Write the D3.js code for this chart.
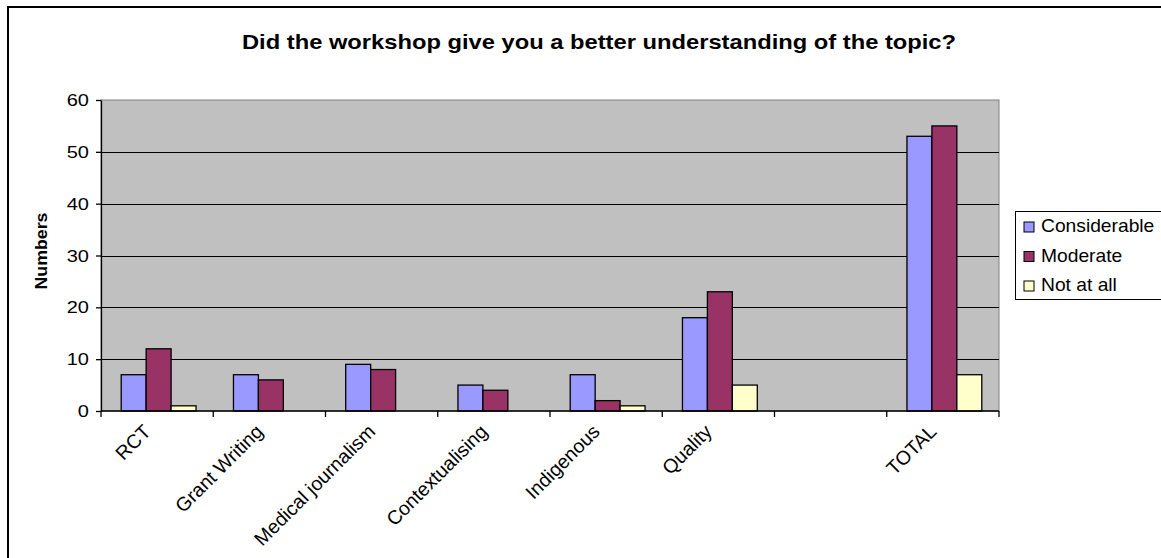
<!DOCTYPE html>
<html>
<head>
<meta charset="utf-8">
<script src="https://cdn.jsdelivr.net/npm/d3@7"></script>
<style>
  html, body { margin: 0; padding: 0; background: #fff; }
  svg { display: block; font-family: Arial, "Liberation Sans", sans-serif; }
</style>
</head>
<body>
<svg id="chart" width="1161" height="558"></svg>
<script>
// Workshop feedback: responses per workshop
const categories = ["RCT", "Grant Writing", "Medical journalism", "Contextualising", "Indigenous", "Quality", "", "TOTAL"];
const seriesNames = ["Considerable", "Moderate", "Not at all"];
const considerable = [7, 7, 9, 5, 7, 18, null, 53];
const moderate = [12, 6, 8, 4, 2, 23, null, 55];
const notAtAll = [1, 0, 0, 0, 1, 5, null, 7];
const yTicks = [0, 10, 20, 30, 40, 50, 60];
const seriesColors = ["#9999FF", "#993366", "#FFFFCC"];

const titleText = "Did the workshop give you a better understanding of the topic?";
const yAxisTitle = "Numbers";

const seriesValues = [considerable, moderate, notAtAll];

const svg = d3.select("#chart");
const W = 1161, H = 558;
const plot = { left: 101, right: 999, top: 100, bottom: 411 };
const SX = 1.25; // horizontal text stretch

svg.append("rect").attr("width", W).attr("height", H).attr("fill", "#fff");

// outer chart border
svg.append("rect")
  .attr("x", 8).attr("y", 7).attr("width", 1200).attr("height", 600)
  .attr("fill", "none").attr("stroke", "#000").attr("stroke-width", 2);

// scales
const x0 = d3.scaleBand().domain(categories).range([plot.left, plot.right]).padding(0);
const x1 = d3.scaleBand().domain(seriesNames).range([0, x0.bandwidth()])
  .paddingInner(0).paddingOuter(0.75);
const y = d3.scaleLinear().domain([0, 60]).range([plot.bottom, plot.top]);

// plot area
svg.append("rect")
  .attr("x", plot.left).attr("y", plot.top)
  .attr("width", plot.right - plot.left).attr("height", plot.bottom - plot.top)
  .attr("fill", "#C0C0C0").attr("stroke", "#808080").attr("stroke-width", 1);

// gridlines
svg.append("g").selectAll("line")
  .data(yTicks.filter(t => t > 0 && t < 60))
  .join("line")
  .attr("x1", plot.left).attr("x2", plot.right)
  .attr("y1", d => Math.round(y(d)) + 0.5).attr("y2", d => Math.round(y(d)) + 0.5)
  .attr("stroke", "#000").attr("stroke-width", 1);

// bars
const rows = categories.map((c, i) => ({ cat: c, vals: seriesNames.map((s, j) => ({ s, j, v: seriesValues[j][i] })) }));
const groups = svg.append("g").selectAll("g")
  .data(rows).join("g")
  .attr("transform", d => `translate(${x0(d.cat) + 1.5},0)`);
groups.selectAll("rect")
  .data(d => d.vals.filter(v => v.v != null))
  .join("rect")
  .attr("x", d => x1(d.s))
  .attr("width", x1.bandwidth())
  .attr("y", d => y(d.v))
  .attr("height", d => y(0) - y(d.v))
  .attr("fill", d => seriesColors[d.j])
  .attr("stroke", "#000").attr("stroke-width", 1.3);

// y axis
const yAxis = svg.append("g")
  .attr("transform", `translate(${plot.left},0)`)
  .call(d3.axisLeft(y).tickValues(yTicks).tickSize(5).tickSizeOuter(0).tickFormat(""));
yAxis.selectAll("path, line").attr("stroke", "#000").attr("stroke-width", 1.3);

svg.append("g").selectAll("text")
  .data(yTicks).join("text")
  .attr("transform", d => `translate(89,${y(d) + 6}) scale(${SX},1)`)
  .attr("text-anchor", "end")
  .attr("font-size", 16)
  .attr("fill", "#000")
  .text(d => d);

// x axis
svg.append("line")
  .attr("x1", plot.left).attr("x2", plot.right)
  .attr("y1", plot.bottom).attr("y2", plot.bottom)
  .attr("stroke", "#000").attr("stroke-width", 1.5);
const boundaries = categories.map(c => x0(c)).concat([plot.right]);
svg.append("g").selectAll("line")
  .data(boundaries).join("line")
  .attr("x1", d => d).attr("x2", d => d)
  .attr("y1", plot.bottom).attr("y2", plot.bottom + 6)
  .attr("stroke", "#000").attr("stroke-width", 1.3);

svg.append("g").selectAll("text")
  .data(categories).join("text")
  .attr("transform", d => `translate(${x0(d) + x0.bandwidth() / 2 - 10},${plot.bottom + 17}) rotate(-45)`)
  .attr("text-anchor", "end")
  .attr("dy", "0.35em")
  .attr("font-size", 19.5)
  .attr("fill", "#000")
  .text(d => d);

// title
svg.append("text")
  .attr("transform", `translate(599,49) scale(1.13,1)`)
  .attr("text-anchor", "middle")
  .attr("font-size", 21).attr("font-weight", "bold")
  .attr("fill", "#000")
  .text(titleText);

// y axis title
svg.append("text")
  .attr("transform", "translate(47,251) rotate(-90)")
  .attr("text-anchor", "middle")
  .attr("font-size", 17).attr("font-weight", "bold")
  .attr("textLength", 77).attr("lengthAdjust", "spacingAndGlyphs")
  .attr("fill", "#000")
  .text(yAxisTitle);

// legend
const legend = svg.append("g");
legend.append("rect")
  .attr("x", 1015.5).attr("y", 211.5).attr("width", 146).attr("height", 88)
  .attr("fill", "#fff").attr("stroke", "#000").attr("stroke-width", 1);
const items = legend.selectAll("g.item")
  .data(seriesNames).join("g").attr("class", "item")
  .attr("transform", (d, i) => `translate(0,${232 + i * 29.5})`);
items.append("rect")
  .attr("x", 1024).attr("y", -10).attr("width", 10).attr("height", 10)
  .attr("fill", (d, i) => seriesColors[i]).attr("stroke", "#000").attr("stroke-width", 1);
items.append("text")
  .attr("transform", `translate(1041,0) scale(1.1,1)`)
  .attr("font-size", 17.5)
  .attr("fill", "#000")
  .text(d => d);
</script>
</body>
</html>
